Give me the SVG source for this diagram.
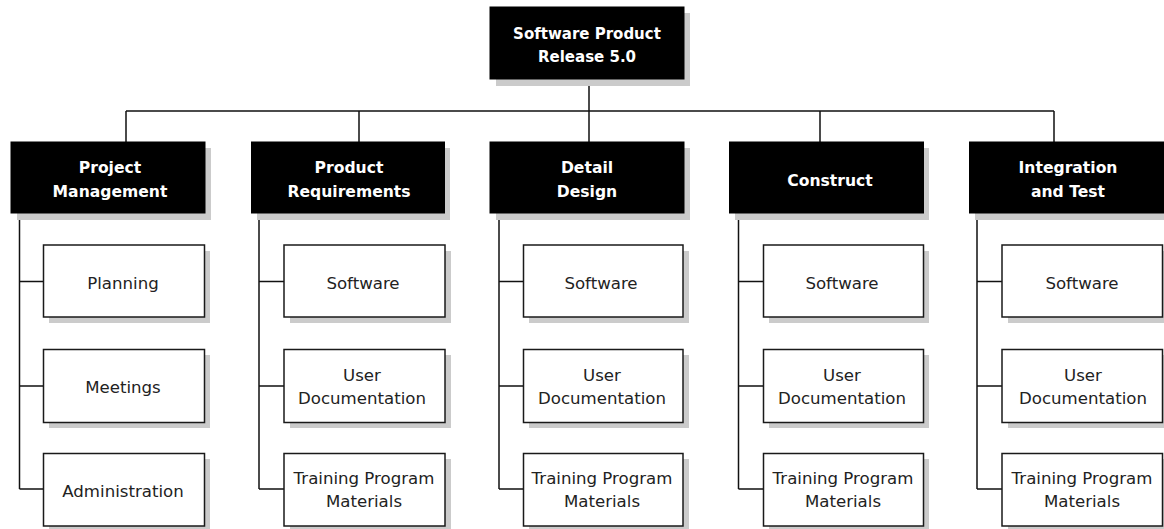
<svg xmlns="http://www.w3.org/2000/svg" width="1164" height="529" viewBox="0 0 1164 529">
<style>
.sh{fill:#cbcbcb}
.hb{fill:#000;stroke:#000;stroke-width:1}
.cb{fill:#fff;stroke:#1a1a1a;stroke-width:1.5}
.ht{font-family:"DejaVu Sans",sans-serif;font-weight:bold;font-size:15.6px;fill:#fff;text-anchor:middle}
.rt{font-size:15px}
.ct{font-family:"DejaVu Sans",sans-serif;font-size:16.6px;fill:#222;text-anchor:middle}
.ln{fill:none;stroke:#111;stroke-width:1.5}
</style>
<rect width="1164" height="529" fill="#fff"/>
<g id="connectors" class="ln">
<path d="M589 79V142M126 111H1054M126 111V142M359 111V142M820 111V142M1054 111V142"/>
<path d="M19.5 213V489M19.5 281.5H43M19.5 386H43M19.5 489H43"/>
<path d="M259 213V489M259 281.5H284M259 386H284M259 489H284"/>
<path d="M499 213V489M499 281.5H523M499 386H523M499 489H523"/>
<path d="M738.5 213V489M738.5 281.5H763M738.5 386H763M738.5 489H763"/>
<path d="M977 213V489M977 281.5H1002M977 386H1002M977 489H1002"/>
</g>
<g id="root"><rect class="sh" x="496" y="13" width="194" height="73"/><rect class="hb" x="490" y="7" width="194" height="72"/><text class="ht rt" x="587" y="39">Software Product</text><text class="ht rt" x="587" y="62">Release 5.0</text></g>
<g id="pm"><rect class="sh" x="17" y="148" width="194" height="72"/><rect class="hb" x="11" y="142" width="194" height="71"/><text class="ht" x="110" y="173">Project</text><text class="ht" x="110" y="197">Management</text></g>
<g id="pr"><rect class="sh" x="257" y="148" width="193" height="72"/><rect class="hb" x="251.5" y="142" width="193" height="71"/><text class="ht" x="349" y="173">Product</text><text class="ht" x="349" y="197">Requirements</text></g>
<g id="dd"><rect class="sh" x="496" y="148" width="194" height="72"/><rect class="hb" x="490" y="142" width="194" height="71"/><text class="ht" x="587" y="173">Detail</text><text class="ht" x="587" y="197">Design</text></g>
<g id="co"><rect class="sh" x="735" y="148" width="194" height="72"/><rect class="hb" x="729.5" y="142" width="194" height="71"/><text class="ht" x="830" y="186">Construct</text></g>
<g id="it"><rect class="sh" x="975" y="148" width="194" height="72"/><rect class="hb" x="969.5" y="142" width="194" height="71"/><text class="ht" x="1068" y="173">Integration</text><text class="ht" x="1068" y="197">and Test</text></g>
<g id="pm1"><rect class="sh" x="49" y="251" width="161" height="72"/><rect class="cb" x="43.5" y="245" width="161" height="72"/><text class="ct" x="123" y="289">Planning</text></g>
<g id="pm2"><rect class="sh" x="49" y="355" width="161" height="73"/><rect class="cb" x="43.5" y="349.5" width="161" height="73"/><text class="ct" x="123" y="393">Meetings</text></g>
<g id="pm3"><rect class="sh" x="49" y="459" width="161" height="73"/><rect class="cb" x="43.5" y="453.5" width="161" height="72.5"/><text class="ct" x="123" y="497">Administration</text></g>
<g id="pr1"><rect class="sh" x="290" y="251" width="161" height="72"/><rect class="cb" x="284" y="245" width="161" height="72"/><text class="ct" x="363" y="289">Software</text></g>
<g id="pr2"><rect class="sh" x="290" y="355" width="161" height="73"/><rect class="cb" x="284" y="349.5" width="161" height="73"/><text class="ct" x="362" y="381">User</text><text class="ct" x="362" y="404">Documentation</text></g>
<g id="pr3"><rect class="sh" x="290" y="459" width="161" height="73"/><rect class="cb" x="284" y="453.5" width="161" height="72.5"/><text class="ct" x="364" y="484">Training Program</text><text class="ct" x="364" y="507">Materials</text></g>
<g id="dd1"><rect class="sh" x="529" y="251" width="160" height="72"/><rect class="cb" x="523.5" y="245" width="159.5" height="72"/><text class="ct" x="601" y="289">Software</text></g>
<g id="dd2"><rect class="sh" x="529" y="355" width="160" height="73"/><rect class="cb" x="523.5" y="349.5" width="159.5" height="73"/><text class="ct" x="602" y="381">User</text><text class="ct" x="602" y="404">Documentation</text></g>
<g id="dd3"><rect class="sh" x="529" y="459" width="160" height="73"/><rect class="cb" x="523.5" y="453.5" width="159.5" height="72.5"/><text class="ct" x="602" y="484">Training Program</text><text class="ct" x="602" y="507">Materials</text></g>
<g id="co1"><rect class="sh" x="769" y="251" width="160" height="72"/><rect class="cb" x="763.5" y="245" width="160" height="72"/><text class="ct" x="842" y="289">Software</text></g>
<g id="co2"><rect class="sh" x="769" y="355" width="160" height="73"/><rect class="cb" x="763.5" y="349.5" width="160" height="73"/><text class="ct" x="842" y="381">User</text><text class="ct" x="842" y="404">Documentation</text></g>
<g id="co3"><rect class="sh" x="769" y="459" width="160" height="73"/><rect class="cb" x="763.5" y="453.5" width="160" height="72.5"/><text class="ct" x="843" y="484">Training Program</text><text class="ct" x="843" y="507">Materials</text></g>
<g id="it1"><rect class="sh" x="1008" y="251" width="161" height="72"/><rect class="cb" x="1002" y="245" width="160.5" height="72"/><text class="ct" x="1082" y="289">Software</text></g>
<g id="it2"><rect class="sh" x="1008" y="355" width="161" height="73"/><rect class="cb" x="1002" y="349.5" width="160.5" height="73"/><text class="ct" x="1083" y="381">User</text><text class="ct" x="1083" y="404">Documentation</text></g>
<g id="it3"><rect class="sh" x="1008" y="459" width="161" height="73"/><rect class="cb" x="1002" y="453.5" width="160.5" height="72.5"/><text class="ct" x="1082" y="484">Training Program</text><text class="ct" x="1082" y="507">Materials</text></g>
</svg>
